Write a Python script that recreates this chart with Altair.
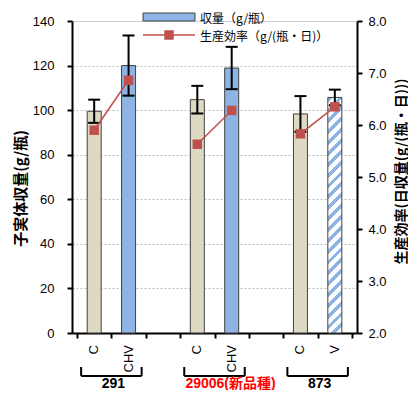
import altair as alt
import pandas as pd

# ---- data ----
slots = [0.5, 1.5, 3.5, 4.5, 6.5, 7.5]
categories = ["C", "CHV", "C", "CHV", "C", "V"]
groups = ["291", "291", "29006", "29006", "873", "873"]
yield_vals = [99.5, 120.0, 104.7, 118.9, 98.3, 105.7]
yield_err = [5.2, 13.5, 6.2, 9.5, 8.0, 3.5]
efficiency = [5.90, 6.86, 5.63, 6.28, 5.83, 6.35]

group_names = ["291", "29006", "873"]
group_labels = ["291", "29006(新品種)", "873"]
left_ticks = [0, 20, 40, 60, 80, 100, 120, 140]
right_ticks = [2, 3, 4, 5, 6, 7, 8]
x_ticks = [0, 1, 2, 3, 4, 5, 6, 7, 8]

df = pd.DataFrame({
    "pos": slots, "cat": categories, "group": groups,
    "yield": yield_vals, "err": yield_err, "eff": efficiency,
})
df["lo"] = df["yield"] - df["err"]
df["hi"] = df["yield"] + df["err"]

gdf = pd.DataFrame({"group": group_names, "label": group_labels})
gdf["center"] = [df[df.group == g].pos.mean() for g in group_names]
gdf["b0"] = gdf["center"] - 0.88
gdf["b1"] = gdf["center"] + 0.88

# ---- styles ----
PW, PH = 285, 312
BEIGE = "#ddd9c3"
BLUE = "#8db4e2"
RED = "#c0504d"
EDGE = "#404040"
NUM_FONT = "Liberation Sans"
JP_FONT = "Noto Sans CJK JP"

x_scale = alt.Scale(domain=[0, 8], nice=False, zero=False)
yl_scale = alt.Scale(domain=[0, 140], nice=False)
yr_scale = alt.Scale(domain=[2, 8], nice=False, zero=False)

x_axis = alt.Axis(values=x_ticks, labels=False, title=None, grid=False,
                  domainColor="black", domainWidth=2, tickColor="black",
                  tickWidth=2, tickSize=5)
left_axis = alt.Axis(values=left_ticks, title="子実体収量(g/瓶)", orient="left",
                     grid=True, gridColor="#bfbfbf", gridDash=[2, 2], gridWidth=1,
                     domainColor="black", domainWidth=2, tickColor="black",
                     tickWidth=2, tickSize=5, labelPadding=13,
                     labelFont=NUM_FONT, labelFontSize=13, labelColor="black",
                     titleFont=JP_FONT, titleFontSize=15, titleFontWeight="bold",
                     titleColor="black", titleAngle=270, titleAlign="center",
                     titleBaseline="middle", titleX=-52, titleY=167)
right_axis = alt.Axis(values=right_ticks, format=".1f", orient="right",
                      title="生産効率(日収量(g/(瓶・日)))", grid=False,
                      domainColor="black", domainWidth=2, tickColor="black",
                      tickWidth=2, tickSize=5, labelPadding=6,
                      labelFont=NUM_FONT, labelFontSize=13, labelColor="black",
                      titleFont=JP_FONT, titleFontSize=14, titleFontWeight="bold",
                      titleColor="black", titleAngle=270, titleAlign="center",
                      titleBaseline="middle", titleX=44, titleY=150)

X = alt.X("pos:Q", scale=x_scale, axis=x_axis)
base = alt.Chart(df)

bars = base.transform_filter(alt.datum.cat != "V").mark_bar(
    size=14, orient="vertical", stroke=EDGE, strokeWidth=1
).encode(
    x=X,
    y=alt.Y("yield:Q", scale=yl_scale, axis=left_axis),
    fill=alt.Fill("cat:N", scale=alt.Scale(domain=["C", "CHV"], range=[BEIGE, BLUE]), legend=None),
)

# diagonal hatch for the V bar built from a hard-stop linear gradient
W = 14.0
H = 105.7 / 140 * PH
k = (W + H) / (W * W + H * H)
n = 23
stops = []
for i in range(n):
    a, b, c = i / n, (i + 0.45) / n, (i + 1) / n
    stops += [alt.GradientStop(offset=a, color=BLUE), alt.GradientStop(offset=b, color=BLUE),
              alt.GradientStop(offset=b, color="white"), alt.GradientStop(offset=c, color="white")]
hatch = alt.Gradient(gradient="linear", stops=stops, x1=0, y1=0, x2=k * W, y2=k * H)

vbar = base.transform_filter(alt.datum.cat == "V").mark_bar(
    size=14, orient="vertical", stroke=EDGE, strokeWidth=1, fill=hatch
).encode(x=X, y=alt.Y("yield:Q", scale=yl_scale, axis=left_axis))

err = base.mark_rule(color="black", strokeWidth=2).encode(
    x=X, y=alt.Y("lo:Q", scale=yl_scale, axis=left_axis), y2="hi:Q")
cap_hi = base.mark_tick(orient="horizontal", size=12, thickness=2, color="black", opacity=1).encode(
    x=X, y=alt.Y("hi:Q", scale=yl_scale, axis=left_axis))
cap_lo = base.mark_tick(orient="horizontal", size=12, thickness=2, color="black", opacity=1).encode(
    x=X, y=alt.Y("lo:Q", scale=yl_scale, axis=left_axis))

left = alt.layer(bars, vbar, err, cap_hi, cap_lo)

line = base.mark_line(color=RED, strokeWidth=1.5).encode(
    x=X, y=alt.Y("eff:Q", scale=yr_scale, axis=right_axis), detail="group:N")
pts = base.mark_point(shape="square", filled=True, size=90, color=RED, opacity=1).encode(
    x=X, y=alt.Y("eff:Q", scale=yr_scale, axis=right_axis))
right = alt.layer(line, pts)

cat_text = base.mark_text(angle=270, align="right", baseline="middle", fontSize=13,
                          font=NUM_FONT, color="black").encode(
    x=X, y=alt.value(PH + 12), text="cat:N")

gbase = alt.Chart(gdf)
GX0 = alt.X("b0:Q", scale=x_scale, axis=x_axis)
GX1 = alt.X("b1:Q", scale=x_scale, axis=x_axis)
br_l = gbase.mark_rule(color="black", strokeWidth=2).encode(x=GX0, y=alt.value(PH + 34), y2=alt.value(PH + 43))
br_r = gbase.mark_rule(color="black", strokeWidth=2).encode(x=GX1, y=alt.value(PH + 34), y2=alt.value(PH + 43))
br_h = gbase.mark_rule(color="black", strokeWidth=2).encode(x=GX0, x2="b1:Q", y=alt.value(PH + 43))

GC = alt.X("center:Q", scale=x_scale, axis=x_axis)
glab_black = gbase.transform_filter(alt.datum.group != "29006").mark_text(
    fontSize=14, fontWeight="bold", font=NUM_FONT + ", " + JP_FONT, color="black",
    baseline="alphabetic", dx=2).encode(x=GC, y=alt.value(PH + 55), text="label:N")
glab_red = gbase.transform_filter(alt.datum.group == "29006").mark_text(
    fontSize=14, fontWeight="bold", font=NUM_FONT + ", " + JP_FONT, color="red",
    baseline="alphabetic", dx=16).encode(x=GC, y=alt.value(PH + 55), text="label:N")

# manual legend
one = alt.Chart(pd.DataFrame({"k": [0]}))
leg_rect = one.mark_rect(fill=BLUE, stroke=EDGE, strokeWidth=1).encode(
    x=alt.value(71), x2=alt.value(123), y=alt.value(-8), y2=alt.value(0))
leg_t1 = one.mark_text(align="left", baseline="middle", fontSize=12, font=JP_FONT, color="black").encode(
    x=alt.value(128), y=alt.value(-2), text=alt.value("収量（g/瓶）"))
leg_line = one.mark_rule(color=RED, strokeWidth=1.5).encode(
    x=alt.value(71), x2=alt.value(123), y=alt.value(14))
leg_pt = one.mark_point(shape="square", filled=True, size=90, color=RED, opacity=1).encode(
    x=alt.value(97), y=alt.value(14))
leg_t2 = one.mark_text(align="left", baseline="middle", fontSize=12, font=JP_FONT, color="black").encode(
    x=alt.value(128), y=alt.value(16), text=alt.value("生産効率（g/(瓶・日)）"))

chart = alt.layer(
    left, right, cat_text, br_l, br_r, br_h, glab_black, glab_red,
    leg_rect, leg_t1, leg_line, leg_pt, leg_t2
).resolve_scale(y="independent").properties(
    width=PW, height=PH,
    padding={"left": 64, "top": 13, "right": 51, "bottom": 57},
    autosize=alt.AutoSizeParams(type="none"),
).configure_view(stroke=None).configure(background="white")

chart.save("out.html", embed_options={"renderer": "svg", "actions": False})
